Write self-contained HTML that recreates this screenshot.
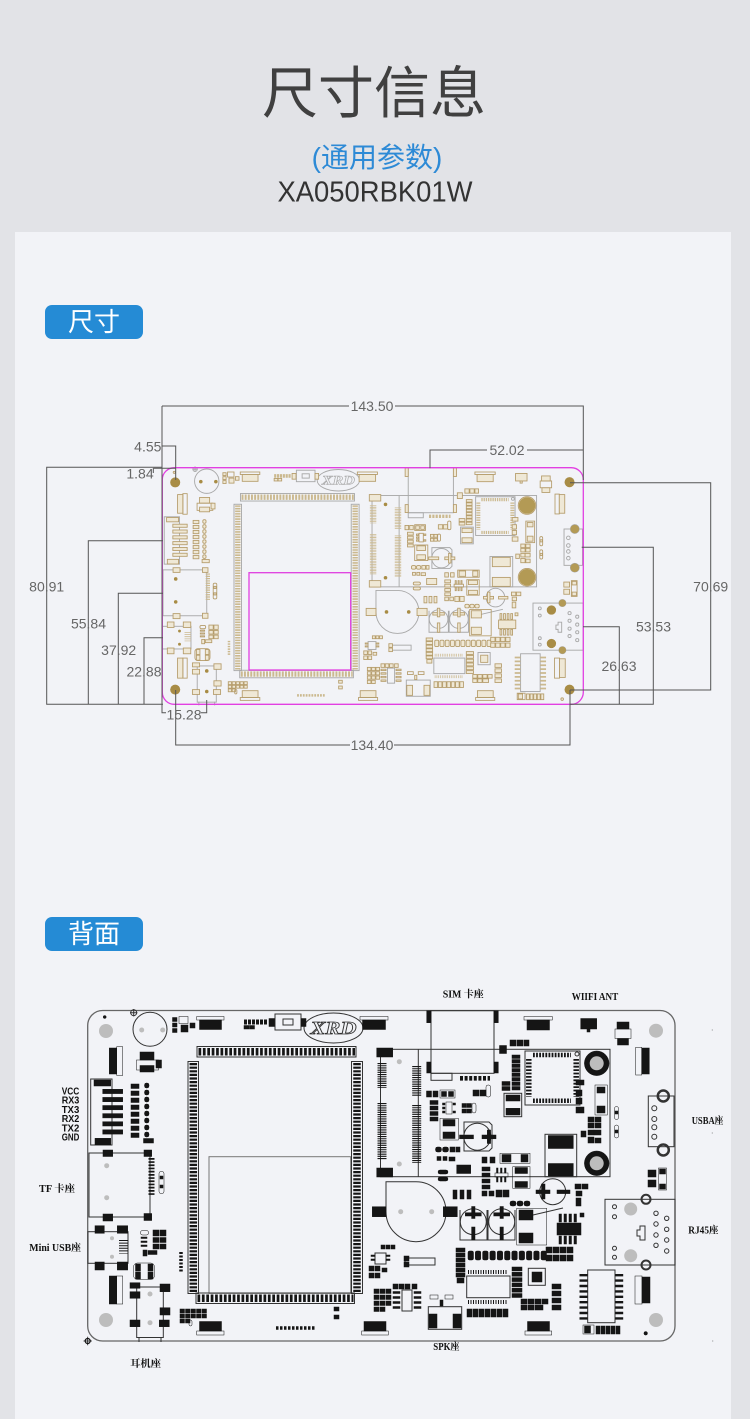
<!DOCTYPE html>
<html><head><meta charset="utf-8"><style>
html,body{margin:0;padding:0;background:#e2e3e7;}
svg{display:block;}
</style></head><body>
<svg width="750" height="1419" viewBox="0 0 750 1419" xmlns="http://www.w3.org/2000/svg" xmlns:xlink="http://www.w3.org/1999/xlink">
<defs>
<!-- outlines -->
<g id="outl" fill="none">
 <rect x="197" y="1046.5" width="159" height="10.5"/>
 <rect x="188" y="1061.5" width="10.5" height="232"/>
 <rect x="351.5" y="1061.5" width="11" height="232"/>
 <rect x="196" y="1293" width="158.5" height="10.5"/>
 <ellipse cx="333.5" cy="1028" rx="29.5" ry="15"/>
 <text x="333.5" y="1034" font-family="Liberation Serif, serif" font-style="italic" font-weight="bold" font-size="18" text-anchor="middle" textLength="46" lengthAdjust="spacingAndGlyphs" stroke-width="0.8">XRD</text>
 <circle cx="150" cy="1029.3" r="17"/>
 <circle cx="133.7" cy="1012.7" r="3"/>
 <path d="M130 1012.7H137.4M133.7 1009V1016.4"/>
 <rect x="275" y="1014" width="26" height="16"/>
 <rect x="283" y="1019" width="10" height="6"/>
 <rect x="90.7" y="1079" width="21.3" height="66"/>
 <rect x="89" y="1153" width="61" height="64"/>
 <rect x="88" y="1231.7" width="40" height="31.6"/>
 <rect x="136.7" y="1287" width="26.6" height="50.5"/>
 <path d="M139 1337V1342M161 1337V1342"/>
 <rect x="380.5" y="1049.3" width="229.5" height="127.4"/>
 <path d="M418.3 1049.3V1176.7"/>
 <rect x="431" y="1010.7" width="63" height="62.6"/>
 <rect x="431" y="1073.3" width="21" height="7"/>
 <rect x="525" y="1051" width="55" height="54"/>
 <circle cx="577" cy="1054" r="2"/>
 <rect x="545" y="1134.3" width="31.7" height="42.4"/>
 <rect x="504" y="1093.3" width="17.7" height="23.4"/>
 <circle cx="477.3" cy="1136.7" r="13.5"/>
 <path d="M464 1122H489L492 1125V1148L489 1151H464Z"/>
 <circle cx="552.7" cy="1191.7" r="13"/>
 <circle cx="473.3" cy="1221.7" r="13"/>
 <circle cx="501.7" cy="1221.7" r="13"/>
 <path d="M460 1210V1240H487V1210M488 1210V1240H515V1210"/>
 <path d="M386 1211.7V1181.7H416A30 30 0 1 1 386 1211.7Z"/>
 <rect x="648.3" y="1096" width="25.7" height="50.7"/>
 <circle cx="654.3" cy="1108.3" r="2.5"/><circle cx="654.3" cy="1119" r="2.5"/><circle cx="654.3" cy="1127.3" r="2.5"/><circle cx="654.3" cy="1136.7" r="2.5"/>
 <circle cx="663.3" cy="1096" r="5.5" stroke-width="2.5"/>
 <circle cx="663.3" cy="1150" r="5.5" stroke-width="2.5"/>
 <rect x="605" y="1199.3" width="70" height="65.7"/>
 <circle cx="646" cy="1199.3" r="4.5" stroke-width="2"/>
 <circle cx="646" cy="1265" r="4.5" stroke-width="2"/>
 <circle cx="614.5" cy="1206.7" r="2"/><circle cx="614.5" cy="1216.7" r="2"/><circle cx="614.5" cy="1248.3" r="2"/><circle cx="614.5" cy="1257.3" r="2"/>
 <circle cx="656" cy="1213.3" r="2.2"/><circle cx="656" cy="1224" r="2.2"/><circle cx="656" cy="1235" r="2.2"/><circle cx="656" cy="1245.3" r="2.2"/>
 <circle cx="666.7" cy="1218.3" r="2.2"/><circle cx="666.7" cy="1229.3" r="2.2"/><circle cx="666.7" cy="1240" r="2.2"/><circle cx="666.7" cy="1251" r="2.2"/>
 <path d="M640 1226H645V1240H640V1236H637V1230H640Z"/>
 <rect x="587.7" y="1270" width="27.3" height="52.7"/>
 <rect x="466.7" y="1276" width="43.3" height="21.7"/>
 <rect x="428.3" y="1306.7" width="33.4" height="22.6"/>
 <rect x="528.3" y="1268.3" width="17" height="17"/>
 <rect x="402" y="1290" width="10" height="21"/>
 <rect x="405" y="1258" width="30" height="7"/>
 <rect x="375" y="1253" width="11" height="11"/>
 <path d="M533 1215L563 1208"/>
</g>
<!-- pin rows -->
<g id="pins" fill="none">
 <line x1="198.5" y1="1051.7" x2="355" y2="1051.7" stroke-width="7.5" stroke-dasharray="2.7 1.7"/>
 <line x1="197.5" y1="1298.3" x2="353.5" y2="1298.3" stroke-width="7.5" stroke-dasharray="2.7 1.7"/>
 <line x1="193.3" y1="1063" x2="193.3" y2="1292" stroke-width="7.5" stroke-dasharray="2.2 1.4"/>
 <line x1="357" y1="1063" x2="357" y2="1292" stroke-width="7.5" stroke-dasharray="2.2 1.4"/>
 <line x1="382" y1="1063" x2="382" y2="1088" stroke-width="9" stroke-dasharray="1.1 1.1"/>
 <line x1="382" y1="1103" x2="382" y2="1160" stroke-width="9" stroke-dasharray="1.1 1.1"/>
 <line x1="416.7" y1="1066" x2="416.7" y2="1096" stroke-width="9" stroke-dasharray="1.1 1.1"/>
 <line x1="416.7" y1="1105" x2="416.7" y2="1163" stroke-width="9" stroke-dasharray="1.1 1.1"/>
 <line x1="533" y1="1055" x2="571" y2="1055" stroke-width="4.5" stroke-dasharray="1.8 1.3"/>
 <line x1="533" y1="1100.8" x2="571" y2="1100.8" stroke-width="4.5" stroke-dasharray="1.8 1.3"/>
 <line x1="528.8" y1="1059" x2="528.8" y2="1097" stroke-width="5.5" stroke-dasharray="1.8 1.6"/>
 <line x1="576.2" y1="1059" x2="576.2" y2="1097" stroke-width="5.5" stroke-dasharray="1.8 1.6"/>
 <line x1="151.5" y1="1158" x2="151.5" y2="1196" stroke-width="6" stroke-dasharray="1.7 1.5"/>
 <line x1="123.5" y1="1240" x2="123.5" y2="1253.5" stroke-width="9" stroke-dasharray="1 1.6"/>
 <line x1="583.5" y1="1274" x2="583.5" y2="1321" stroke-width="8" stroke-dasharray="2.4 3"/>
 <line x1="619.2" y1="1274" x2="619.2" y2="1321" stroke-width="8" stroke-dasharray="2.4 3"/>
 <line x1="468" y1="1272" x2="508" y2="1272" stroke-width="4" stroke-dasharray="1 1.5"/>
 <line x1="468" y1="1302" x2="508" y2="1302" stroke-width="4" stroke-dasharray="1 1.5"/>
 <line x1="460" y1="1078.3" x2="490" y2="1078.3" stroke-width="4.7" stroke-dasharray="3 1.6"/>
 <line x1="276" y1="1328" x2="315" y2="1328" stroke-width="3.5" stroke-dasharray="2.5 1.5"/>
 <line x1="181" y1="1252" x2="181" y2="1272" stroke-width="3.5" stroke-dasharray="2 1.5"/>
 <line x1="244" y1="1022" x2="267" y2="1022" stroke-width="5" stroke-dasharray="3 1"/>
</g>
<!-- pads -->
<g id="pads">
 <rect x="196.7" y="1016.5" width="27.3" height="3.5" fill="none"/><rect x="199.5" y="1020" width="22" height="9.5"/>
 <rect x="360" y="1016.5" width="28" height="3.5" fill="none"/><rect x="362.5" y="1020" width="23" height="9.5"/>
 <rect x="524" y="1016.5" width="28.3" height="3.5" fill="none"/><rect x="527" y="1020" width="22.5" height="10"/>
 <rect x="199.5" y="1321.5" width="22" height="9.5"/><rect x="196.7" y="1331" width="27.3" height="4" fill="none"/>
 <rect x="364" y="1321.5" width="22" height="9.5"/><rect x="361.7" y="1331" width="26.6" height="4" fill="none"/>
 <rect x="527.5" y="1321.5" width="22" height="9.5"/><rect x="525" y="1331" width="26.7" height="4" fill="none"/>
 <rect x="109.3" y="1048" width="7.4" height="26"/><rect x="116.7" y="1046.7" width="6" height="28.7" fill="none"/>
 <rect x="109.3" y="1276" width="7.4" height="28"/><rect x="116.7" y="1276" width="6" height="28" fill="none"/>
 <rect x="635.7" y="1047.3" width="6" height="27.7" fill="none"/><rect x="641.7" y="1048" width="7.6" height="26"/>
 <rect x="635" y="1276" width="7" height="28" fill="none"/><rect x="642" y="1277" width="8" height="26"/>
 <rect x="140" y="1052" width="14" height="8"/><rect x="136.5" y="1060" width="22" height="10" fill="none"/><rect x="140" y="1065.5" width="14" height="6.5"/><rect x="156" y="1060" width="5.5" height="8"/>
 <rect x="172.5" y="1017.5" width="4.5" height="4"/><rect x="172.5" y="1023" width="4.5" height="4"/><rect x="172.5" y="1028.5" width="4.5" height="4"/>
 <rect x="179" y="1016.5" width="9" height="7" fill="none"/><rect x="181" y="1025" width="7" height="7"/><rect x="190" y="1023" width="5" height="5"/>
 <rect x="244" y="1025.5" width="5" height="3.5"/><rect x="249.5" y="1025.5" width="5" height="3.5"/>
 <rect x="269" y="1018.5" width="5.5" height="8"/><rect x="301" y="1018.5" width="5" height="8"/>
 <rect x="94" y="1080" width="16.7" height="6"/><rect x="95" y="1138.3" width="15.7" height="6.5"/>
 <rect x="102.7" y="1089.3" width="20" height="4.3"/><rect x="102.7" y="1097.4" width="20" height="4.3"/><rect x="102.7" y="1105.5" width="20" height="4.3"/><rect x="102.7" y="1113.6" width="20" height="4.3"/><rect x="102.7" y="1121.7" width="20" height="4.3"/><rect x="102.7" y="1129.8" width="20" height="4.3"/>
 <rect x="131" y="1084" width="8" height="4.5"/><rect x="131" y="1091" width="8" height="4.5"/><rect x="131" y="1098" width="8" height="4.5"/><rect x="131" y="1105" width="8" height="4.5"/><rect x="131" y="1112" width="8" height="4.5"/><rect x="131" y="1119" width="8" height="4.5"/><rect x="131" y="1126" width="8" height="4.5"/><rect x="131" y="1133" width="8" height="4.5"/>
 <rect x="144.5" y="1083" width="4.5" height="5" rx="2"/><rect x="144.5" y="1090" width="4.5" height="5" rx="2"/><rect x="144.5" y="1097" width="4.5" height="5" rx="2"/><rect x="144.5" y="1104" width="4.5" height="5" rx="2"/><rect x="144.5" y="1111" width="4.5" height="5" rx="2"/><rect x="144.5" y="1118" width="4.5" height="5" rx="2"/><rect x="144.5" y="1125" width="4.5" height="5" rx="2"/><rect x="144.5" y="1132" width="4.5" height="5" rx="2"/>
 <rect x="143.5" y="1138.5" width="10" height="4.5"/>
 <rect x="103" y="1150" width="9.7" height="6.5"/><rect x="144" y="1150" width="7.7" height="6.5"/><rect x="103" y="1214" width="9.7" height="7"/><rect x="144" y="1213.5" width="7.7" height="7"/>
 <rect x="159" y="1171.5" width="5" height="22" rx="2" fill="none"/><rect x="160" y="1176" width="3" height="3"/><rect x="160" y="1185" width="3" height="3"/>
 <rect x="95" y="1225.7" width="9.3" height="7.6"/><rect x="117.3" y="1225.7" width="10.4" height="7.6"/><rect x="95" y="1262" width="9.3" height="8"/><rect x="117.3" y="1262" width="10.4" height="8"/>
 <rect x="140.5" y="1230.5" width="8" height="4.5" rx="2" fill="none"/><rect x="153" y="1230" width="6" height="6"/><rect x="160" y="1230" width="6" height="6"/><rect x="153" y="1237.5" width="6" height="5"/><rect x="160" y="1237.5" width="6" height="5"/><rect x="153" y="1244" width="6" height="5"/><rect x="160" y="1244" width="6" height="5"/>
 <rect x="141" y="1237" width="6" height="1.5"/><rect x="141" y="1241" width="6" height="1.5"/><rect x="141" y="1245" width="6" height="1.5"/><rect x="143" y="1250" width="4" height="6"/><rect x="148" y="1250.5" width="9" height="4"/>
 <rect x="133.5" y="1263" width="21" height="16.5" rx="4" fill="none"/><rect x="135.5" y="1264" width="5" height="7"/><rect x="148" y="1264" width="5" height="7"/><rect x="135.5" y="1272" width="5" height="7"/><rect x="148" y="1272" width="5" height="7"/>
 <rect x="130" y="1282.7" width="10" height="5.6"/><rect x="130" y="1291.7" width="10" height="6.6"/><rect x="160" y="1284" width="10" height="7.7"/><rect x="160" y="1307.7" width="10" height="7.3"/><rect x="130" y="1320" width="10" height="6.7"/><rect x="159.3" y="1320" width="10" height="6.7"/>
 <rect x="180" y="1309" width="4.5" height="4"/><rect x="185.5" y="1309" width="4.5" height="4"/><rect x="191" y="1309" width="4.5" height="4"/><rect x="196.5" y="1309" width="4.5" height="4"/><rect x="202" y="1309" width="4.5" height="4"/>
 <rect x="180" y="1314" width="4.5" height="4"/><rect x="185.5" y="1314" width="4.5" height="4"/><rect x="191" y="1314" width="4.5" height="4"/><rect x="196.5" y="1314" width="4.5" height="4"/><rect x="202" y="1314" width="4.5" height="4"/>
 <rect x="180" y="1319" width="4.5" height="4"/><rect x="185.5" y="1319" width="4.5" height="4"/><rect x="189" y="1320" width="3" height="6" rx="1.5" fill="none"/>
 <rect x="334" y="1307" width="5" height="4"/><rect x="334" y="1315" width="5" height="4"/>
 <rect x="376.7" y="1048" width="16" height="9"/><rect x="376.7" y="1168" width="16" height="9"/>
 <rect x="426.7" y="1010.7" width="4.3" height="12"/><rect x="494" y="1010.7" width="4.3" height="12"/><rect x="426.7" y="1062" width="4.3" height="11"/><rect x="494" y="1062" width="4.3" height="11"/>
 <rect x="580.7" y="1018.5" width="16" height="10.5"/><rect x="587" y="1029" width="3" height="3"/>
 <rect x="617" y="1022" width="12" height="7"/><rect x="615" y="1029" width="16" height="9.5" fill="none"/><rect x="617.5" y="1038.5" width="11" height="6.5"/>
 <rect x="499.5" y="1045.5" width="7" height="8"/><rect x="510" y="1040" width="6" height="6"/><rect x="517" y="1040" width="6" height="6"/><rect x="524" y="1040" width="5" height="6"/>
 <rect x="512" y="1055" width="8" height="3.5"/><rect x="512" y="1059.5" width="8" height="3.5"/><rect x="512" y="1064" width="8" height="3.5"/><rect x="512" y="1068.5" width="8" height="3.5"/><rect x="512" y="1073" width="8" height="3.5"/><rect x="512" y="1077.5" width="8" height="3.5"/><rect x="512" y="1082" width="8" height="3.5"/><rect x="512" y="1086.5" width="8" height="3.5"/>
 <rect x="502" y="1081.5" width="8" height="4"/><rect x="502" y="1086.5" width="8" height="4"/>
 <rect x="426.5" y="1091" width="5" height="6"/><rect x="433" y="1091" width="5" height="6"/><rect x="440" y="1090" width="15" height="8" fill="none"/><rect x="441.5" y="1091.5" width="5" height="5"/><rect x="448.5" y="1091.5" width="5" height="5"/>
 <rect x="430" y="1100.5" width="8" height="4"/><rect x="430" y="1106" width="8" height="4"/><rect x="430" y="1111.5" width="8" height="4"/><rect x="430" y="1117" width="8" height="4"/>
 <rect x="446" y="1102" width="6" height="12" fill="none"/><rect x="442.5" y="1103" width="2.5" height="2"/><rect x="442.5" y="1107" width="2.5" height="2"/><rect x="442.5" y="1111" width="2.5" height="2"/><rect x="453" y="1103" width="2.5" height="2"/><rect x="453" y="1111" width="2.5" height="2"/>
 <rect x="462" y="1103.5" width="4.5" height="4"/><rect x="467" y="1103.5" width="4.5" height="4"/><rect x="462" y="1109" width="4.5" height="4"/><rect x="467" y="1109" width="4.5" height="4"/><rect x="472" y="1103" width="4" height="10" rx="2" fill="none"/>
 <rect x="473" y="1090" width="6" height="6"/><rect x="480" y="1090" width="6" height="6"/><rect x="486" y="1085" width="4.5" height="12" rx="2" fill="none"/>
 <rect x="506" y="1095" width="14" height="6"/><rect x="506" y="1108.3" width="14" height="6.7"/>
 <rect x="440" y="1118.3" width="18.3" height="21.7" fill="none"/><rect x="443" y="1119.5" width="12" height="6.5"/><rect x="443" y="1132" width="12" height="6.5"/>
 <rect x="459.5" y="1135" width="14" height="3.8"/><rect x="482" y="1135" width="14" height="3.8"/><rect x="487.3" y="1130" width="3.3" height="13.5"/>
 <rect x="435.5" y="1147" width="6" height="5" rx="2"/><rect x="442.5" y="1147" width="6" height="5" rx="2"/><rect x="450" y="1147" width="5" height="5"/><rect x="456" y="1147" width="4" height="5"/>
 <rect x="437" y="1156.5" width="4" height="4"/><rect x="443" y="1156.5" width="4" height="4"/><rect x="449" y="1157" width="6" height="4"/>
 <rect x="456.7" y="1165" width="14" height="8.5"/>
 <rect x="500" y="1153.3" width="30" height="10" fill="none"/><rect x="502" y="1154.5" width="9" height="7.5"/><rect x="521" y="1154.5" width="7" height="7.5"/>
 <rect x="512.7" y="1166.7" width="17.3" height="21.6" fill="none"/><rect x="515" y="1167.5" width="12.5" height="6"/><rect x="515" y="1181.5" width="12.5" height="6"/>
 <rect x="482" y="1157" width="5" height="6"/><rect x="490" y="1157" width="5" height="6"/>
 <rect x="482" y="1167" width="8" height="4"/><rect x="482" y="1173" width="8" height="4"/><rect x="482" y="1179" width="8" height="4"/><rect x="482" y="1185" width="8" height="4"/>
 <rect x="495" y="1173" width="13" height="4" fill="none"/><rect x="496.5" y="1168" width="1.5" height="5"/><rect x="500.5" y="1168" width="1.5" height="5"/><rect x="504.5" y="1168" width="1.5" height="5"/><rect x="496.5" y="1177" width="1.5" height="5"/><rect x="500.5" y="1177" width="1.5" height="5"/><rect x="504.5" y="1177" width="1.5" height="5"/>
 <rect x="482" y="1191" width="5" height="5"/><rect x="489" y="1191" width="5" height="5"/><rect x="496" y="1190" width="6" height="7"/><rect x="503" y="1190" width="6" height="7"/>
 <rect x="453" y="1190" width="4" height="9"/><rect x="460" y="1190" width="4" height="9"/><rect x="467" y="1190" width="4" height="9"/>
 <rect x="438" y="1170" width="10" height="4" rx="2"/><rect x="438" y="1177" width="10" height="4" rx="2"/>
 <rect x="510" y="1201" width="6" height="5" rx="2"/><rect x="517" y="1201" width="6" height="5" rx="2"/><rect x="524" y="1201" width="6" height="5" rx="2"/>
 <rect x="465.3" y="1212.7" width="16" height="3.3"/><rect x="471.6" y="1206.5" width="3.4" height="12"/><rect x="471.6" y="1227" width="3.4" height="13"/>
 <rect x="493.7" y="1212.7" width="16" height="3.3"/><rect x="500" y="1206.5" width="3.4" height="12"/><rect x="500" y="1227" width="3.4" height="13"/>
 <rect x="516.7" y="1208.3" width="30" height="36.7" fill="none"/><rect x="519" y="1210" width="14" height="10"/><rect x="519" y="1233" width="14" height="10"/>
 <rect x="557" y="1223" width="24" height="12"/>
 <rect x="559" y="1214" width="2.5" height="8"/><rect x="564" y="1214" width="2.5" height="8"/><rect x="569" y="1214" width="2.5" height="8"/><rect x="574" y="1214" width="2.5" height="8"/>
 <rect x="559" y="1236" width="2.5" height="8"/><rect x="564" y="1236" width="2.5" height="8"/><rect x="569" y="1236" width="2.5" height="8"/><rect x="574" y="1236" width="2.5" height="8"/><rect x="580" y="1213" width="4" height="4"/>
 <rect x="575" y="1184" width="6" height="5"/><rect x="582" y="1184" width="6" height="5"/><rect x="576" y="1191" width="6" height="5"/><rect x="576" y="1198" width="5" height="8"/>
 <rect x="536" y="1190" width="14" height="3.6"/><rect x="541.5" y="1184" width="3.5" height="15"/><rect x="557" y="1190" width="13" height="3.6"/>
 <rect x="548.3" y="1135.5" width="25" height="13"/><rect x="548.3" y="1163.5" width="25" height="12.5"/>
 <circle cx="596.7" cy="1063.3" r="12.3"/><circle cx="596.7" cy="1163.3" r="12.3"/>
 <rect x="576" y="1080" width="8" height="5"/><rect x="576" y="1090" width="6" height="6"/><rect x="576" y="1098" width="6" height="6"/><rect x="576" y="1107" width="8" height="6"/>
 <rect x="595" y="1085" width="12.3" height="30" fill="none"/><rect x="597" y="1087" width="8" height="6"/><rect x="597" y="1106" width="8" height="7"/>
 <rect x="588" y="1117" width="6" height="5"/><rect x="595" y="1117" width="6" height="5"/><rect x="588" y="1123" width="6" height="5"/><rect x="595" y="1123" width="6" height="5"/>
 <rect x="581" y="1131" width="5" height="6"/><rect x="588" y="1130" width="6" height="5"/><rect x="594" y="1130" width="7" height="5"/><rect x="588" y="1137" width="6" height="6"/><rect x="595" y="1138" width="6" height="5"/>
 <rect x="614.5" y="1106.5" width="4" height="13" rx="2" fill="none"/><rect x="614.5" y="1125" width="4" height="13" rx="2" fill="none"/><rect x="615" y="1111" width="3" height="3"/><rect x="615" y="1130" width="3" height="3"/>
 <rect x="648" y="1170" width="8" height="7"/><rect x="648" y="1180" width="8" height="7"/><rect x="658.5" y="1168" width="8" height="22" fill="none"/><rect x="659.5" y="1169" width="6" height="5"/><rect x="659.5" y="1184" width="6" height="5"/>
 <rect x="372.3" y="1206.7" width="13.7" height="10"/><rect x="443.3" y="1206.7" width="14" height="10"/>
 <rect x="381" y="1245" width="4" height="4"/><rect x="386" y="1245" width="4" height="4"/><rect x="391" y="1245" width="4" height="4"/>
 <rect x="371" y="1255" width="4" height="1.5"/><rect x="371" y="1259" width="4" height="1.5"/><rect x="386" y="1255" width="4" height="1.5"/><rect x="386" y="1259" width="4" height="1.5"/>
 <rect x="369" y="1266" width="5" height="5"/><rect x="375" y="1266" width="5" height="5"/><rect x="369" y="1273" width="5" height="5"/><rect x="375" y="1273" width="5" height="5"/><rect x="382" y="1268" width="5" height="4"/>
 <rect x="404" y="1256" width="5" height="5"/><rect x="404" y="1262" width="5" height="5"/>
 <rect x="393" y="1291.5" width="7" height="2"/><rect x="393" y="1296.5" width="7" height="2"/><rect x="393" y="1301.5" width="7" height="2"/><rect x="393" y="1306.5" width="7" height="2"/>
 <rect x="414" y="1291.5" width="7" height="2"/><rect x="414" y="1296.5" width="7" height="2"/><rect x="414" y="1301.5" width="7" height="2"/><rect x="414" y="1306.5" width="7" height="2"/>
 <rect x="374" y="1289" width="5" height="4.5"/><rect x="380" y="1289" width="5" height="4.5"/><rect x="386" y="1289" width="5" height="4.5"/>
 <rect x="374" y="1295" width="5" height="4.5"/><rect x="380" y="1295" width="5" height="4.5"/><rect x="386" y="1295" width="5" height="4.5"/>
 <rect x="374" y="1301" width="5" height="4.5"/><rect x="380" y="1301" width="5" height="4.5"/><rect x="386" y="1301" width="5" height="4.5"/>
 <rect x="374" y="1307" width="5" height="4.5"/><rect x="380" y="1307" width="5" height="4.5"/>
 <rect x="393" y="1284" width="5" height="5"/><rect x="399" y="1284" width="5" height="5"/><rect x="405" y="1284" width="5" height="5"/><rect x="412" y="1284" width="5" height="5"/>
 <rect x="430" y="1295" width="8" height="4" fill="none"/><rect x="445" y="1295" width="8" height="4" fill="none"/><rect x="440" y="1300" width="3" height="6"/>
 <rect x="429" y="1314" width="8" height="14"/><rect x="453" y="1314" width="8" height="14"/>
 <rect x="456" y="1248" width="9" height="4"/><rect x="456" y="1253" width="9" height="4"/><rect x="456" y="1258" width="9" height="4"/><rect x="456" y="1263" width="9" height="4"/><rect x="456" y="1268" width="9" height="4"/><rect x="456" y="1273" width="9" height="4"/><rect x="457" y="1278" width="7" height="5"/>
 <rect x="468" y="1251" width="5.5" height="9" rx="1.5"/><rect x="475.3" y="1251" width="5.5" height="9" rx="1.5"/><rect x="482.6" y="1251" width="5.5" height="9" rx="1.5"/><rect x="489.9" y="1251" width="5.5" height="9" rx="1.5"/><rect x="497.2" y="1251" width="5.5" height="9" rx="1.5"/><rect x="504.5" y="1251" width="5.5" height="9" rx="1.5"/><rect x="511.8" y="1251" width="5.5" height="9" rx="1.5"/><rect x="519.1" y="1251" width="5.5" height="9" rx="1.5"/><rect x="526.4" y="1251" width="5.5" height="9" rx="1.5"/><rect x="533.7" y="1251" width="5.5" height="9" rx="1.5"/><rect x="541" y="1251" width="5.5" height="9" rx="1.5"/>
 <rect x="512" y="1267" width="10" height="4"/><rect x="512" y="1272.3" width="10" height="4"/><rect x="512" y="1277.6" width="10" height="4"/><rect x="512" y="1282.9" width="10" height="4"/><rect x="512" y="1288.2" width="10" height="4"/><rect x="512" y="1293.5" width="10" height="4"/>
 <rect x="521" y="1299" width="6" height="5"/><rect x="528" y="1299" width="6" height="5"/><rect x="535" y="1299" width="6" height="5"/><rect x="542" y="1299" width="6" height="5"/><rect x="521" y="1305" width="6" height="5"/><rect x="528" y="1305" width="6" height="5"/><rect x="535" y="1305" width="8" height="5"/>
 <rect x="467" y="1309" width="5" height="8"/><rect x="473" y="1309" width="5" height="8"/><rect x="479" y="1309" width="5" height="8"/><rect x="485" y="1309" width="5" height="8"/><rect x="491" y="1309" width="5" height="8"/><rect x="497" y="1309" width="5" height="8"/><rect x="503" y="1309" width="5" height="8"/>
 <rect x="546" y="1247" width="6" height="6"/><rect x="553" y="1247" width="6" height="6"/><rect x="560" y="1247" width="6" height="6"/><rect x="567" y="1247" width="6" height="6"/><rect x="546" y="1255" width="6" height="6"/><rect x="553" y="1255" width="6" height="6"/><rect x="560" y="1255" width="6" height="6"/><rect x="567" y="1255" width="6" height="6"/>
 <rect x="552" y="1284" width="9" height="5"/><rect x="552" y="1291" width="9" height="5"/><rect x="552" y="1298" width="9" height="5"/><rect x="552" y="1305" width="9" height="5"/>
 <rect x="532" y="1272" width="10" height="10"/>
 <rect x="583" y="1325" width="11" height="9" fill="none"/><rect x="584.5" y="1326" width="6" height="7"/><rect x="596" y="1326" width="4" height="8"/><rect x="601" y="1326" width="4" height="8"/><rect x="606" y="1326" width="4" height="8"/><rect x="611" y="1326" width="4" height="8"/><rect x="616" y="1326" width="4" height="8"/>
 <circle cx="645.7" cy="1333.3" r="1.8"/>
 <circle cx="104.7" cy="1017" r="1.5"/>
</g>
<!-- gray dots / holes -->
<g id="dots">
 <circle cx="106" cy="1031" r="7"/><circle cx="106" cy="1320" r="7"/><circle cx="656" cy="1030.7" r="7"/><circle cx="656" cy="1320" r="7"/>
 <circle cx="141.7" cy="1030" r="2.5"/><circle cx="162.7" cy="1030" r="2.5"/>
 <circle cx="106.7" cy="1165.7" r="2.5"/><circle cx="106.7" cy="1197.7" r="2.5"/>
 <circle cx="112" cy="1238.3" r="2"/><circle cx="112" cy="1256.7" r="2"/>
 <circle cx="150" cy="1294" r="2.5"/><circle cx="150" cy="1322.7" r="2.5"/>
 <circle cx="399.3" cy="1061.7" r="2.5"/><circle cx="399.3" cy="1164" r="2.5"/>
 <circle cx="400.7" cy="1211.7" r="2.5"/><circle cx="431.7" cy="1211.7" r="2.5"/>
 <circle cx="596.7" cy="1063.3" r="7"/><circle cx="596.7" cy="1163.3" r="7"/>
 <circle cx="630.7" cy="1209" r="6.5"/><circle cx="630.7" cy="1255.7" r="6.5"/>
</g>
</defs>

<!-- backgrounds -->
<rect x="0" y="0" width="750" height="1419" fill="#e2e3e7"/>
<rect x="15" y="232" width="716" height="1187" fill="#f2f3f7"/>

<!-- header -->
<text x="374" y="113" font-family="Liberation Sans, Noto Sans CJK SC, sans-serif" font-size="56" fill="#404040" text-anchor="middle">尺寸信息</text>
<text x="377" y="167" font-family="Liberation Sans, Noto Sans CJK SC, sans-serif" font-size="28" fill="#2d8ad6" text-anchor="middle">(通用参数)</text>
<text x="277.5" y="201.5" font-family="Liberation Sans, sans-serif" font-size="29" fill="#333" textLength="195" lengthAdjust="spacingAndGlyphs">XA050RBK01W</text>

<!-- badges -->
<rect x="45" y="305" width="98" height="34" rx="7" fill="#258bd5"/>
<text x="94" y="331" font-family="Liberation Sans, Noto Sans CJK SC, sans-serif" font-size="26" fill="#fff" text-anchor="middle">尺寸</text>
<rect x="45" y="917" width="98" height="34" rx="7" fill="#258bd5"/>
<text x="94" y="943" font-family="Liberation Sans, Noto Sans CJK SC, sans-serif" font-size="26" fill="#fff" text-anchor="middle">背面</text>

<!-- ===== TOP BOARD ===== -->
<g transform="translate(162.3 467.7) scale(0.717) translate(-88 -1010.5)">
 <rect x="209" y="1156.7" width="141.7" height="136.6" fill="none" stroke="#b0b0b0" stroke-width="1"/>
 <use xlink:href="#outl" href="#outl" stroke="#a9a9a9" stroke-width="1.3"/>
 <use xlink:href="#pins" href="#pins" stroke="#cbb98f"/>
 <use xlink:href="#pads" href="#pads" fill="#efe8d6" stroke="#b59c6a" stroke-width="1.2"/>
 <use xlink:href="#dots" href="#dots" fill="#a88c45"/>
 <circle cx="596.7" cy="1063.3" r="11.5" fill="#b39a55"/>
 <circle cx="596.7" cy="1163.3" r="11.5" fill="#b39a55"/>
 <circle cx="663.3" cy="1096" r="6" fill="#b39a55"/><circle cx="663.3" cy="1150" r="6" fill="#b39a55"/>
 <circle cx="646" cy="1199.3" r="5" fill="#b39a55"/><circle cx="646" cy="1265" r="5" fill="#b39a55"/>
</g>
<!-- magenta outlines -->
<path d="M174.3 467.7H571.3A12 12 0 0 1 583.3 479.7V692.3A12 12 0 0 1 571.3 704.3H174.3A12 12 0 0 1 162.3 692.3V479.7A12 12 0 0 1 174.3 467.7Z" fill="none" stroke="#e23fe2" stroke-width="1.3"/>
<rect x="249" y="572.7" width="101.7" height="97.3" fill="none" stroke="#e23fe2" stroke-width="1.3"/>

<!-- dimension lines -->
<g stroke="#555" stroke-width="1" fill="none">
 <path d="M162 406H349M395 406H583.3V480"/>
 <path d="M162 406V712.7H166M201 712.7H206.7V700"/>
 <path d="M162 446H175.7V480"/>
 <path d="M153.3 468.3H175.7M153.3 468.3V473"/>
 <path d="M162 467.3H46.7V704.3H163"/>
 <path d="M163 540.7H88.3V704.3"/>
 <path d="M163 593.3H118.3V704.3"/>
 <path d="M163 637.7H144V704.3"/>
 <path d="M175.7 690V745H350M394 745H570V690"/>
 <path d="M430 468.3V450H487M527 450H583.3"/>
 <path d="M570 482.7H710.7V690H570"/>
 <path d="M581.7 547.3H653.3V704.3H570"/>
 <path d="M583 626.7H619.3V704.3"/>
</g>
<g font-family="Liberation Sans, sans-serif" font-size="14" fill="#666" text-anchor="middle">
 <text x="372" y="411">143.50</text>
 <text x="372" y="750">134.40</text>
 <text x="507" y="455">52.02</text>
 <text x="147.8" y="451.7">4.55</text>
 <text x="140" y="478.3">1.84</text>
 <text x="46.7" y="591.7">80.91</text>
 <text x="88.5" y="628.3">55.84</text>
 <text x="118.7" y="655">37.92</text>
 <text x="144" y="676.7">22.88</text>
 <text x="184" y="719.7">15.28</text>
 <text x="710.7" y="591.7">70.69</text>
 <text x="653.5" y="631.7">53.53</text>
 <text x="619" y="671">26.63</text>
</g>

<!-- ===== BACK BOARD ===== -->
<path d="M102.7 1010.5H660A15 15 0 0 1 675 1025.5V1326A15 15 0 0 1 660 1341H102.7A15 15 0 0 1 87.7 1326V1025.5A15 15 0 0 1 102.7 1010.5Z" fill="none" stroke="#666" stroke-width="1.3"/>
<rect x="209" y="1156.7" width="141.7" height="136.6" fill="none" stroke="#777" stroke-width="1"/>
<use xlink:href="#outl" href="#outl" stroke="#333" stroke-width="1"/>
<use xlink:href="#pins" href="#pins" stroke="#151515"/>
<use xlink:href="#pads" href="#pads" fill="#151515" stroke="#151515" stroke-width="0.5"/>
<use xlink:href="#dots" href="#dots" fill="#bdbdbd"/>
<!-- fiducial -->
<circle cx="87.7" cy="1341" r="2.5" fill="none" stroke="#111" stroke-width="1.2"/>
<path d="M83.5 1341H91.9M87.7 1336.8V1345.2" stroke="#111" stroke-width="0.8"/>
<circle cx="712.3" cy="1030" r="0.6" fill="#999"/><circle cx="712.3" cy="1133" r="0.6" fill="#999"/><circle cx="712.7" cy="1341" r="0.6" fill="#999"/>

<!-- back labels -->
<g font-family="Liberation Serif, Noto Serif CJK SC, serif" font-weight="bold" font-size="10" fill="#111">
 <text x="442.7" y="997.5" textLength="41" lengthAdjust="spacingAndGlyphs">SIM 卡座</text>
 <text x="571.7" y="1000" textLength="46.6" lengthAdjust="spacingAndGlyphs">WIIFI ANT</text>
 <text x="691.7" y="1124" textLength="31.6" lengthAdjust="spacingAndGlyphs">USBA座</text>
 <text x="688.3" y="1233.5" textLength="30" lengthAdjust="spacingAndGlyphs">RJ45座</text>
 <text x="433.3" y="1350" textLength="26" lengthAdjust="spacingAndGlyphs">SPK座</text>
 <text x="130" y="1367" textLength="31" lengthAdjust="spacingAndGlyphs">耳机座</text>
 <text x="29.3" y="1251" textLength="51.7" lengthAdjust="spacingAndGlyphs">Mini USB座</text>
 <text x="39" y="1192" textLength="36" lengthAdjust="spacingAndGlyphs">TF 卡座</text>
</g>
<g font-family="Liberation Sans, sans-serif" font-weight="bold" font-size="10.5" fill="#111">
 <text x="61.7" y="1094.5" textLength="17.6" lengthAdjust="spacingAndGlyphs">VCC</text>
 <text x="61.7" y="1103.7" textLength="17.6" lengthAdjust="spacingAndGlyphs">RX3</text>
 <text x="61.7" y="1112.9" textLength="17.6" lengthAdjust="spacingAndGlyphs">TX3</text>
 <text x="61.7" y="1122.1" textLength="17.6" lengthAdjust="spacingAndGlyphs">RX2</text>
 <text x="61.7" y="1131.3" textLength="17.6" lengthAdjust="spacingAndGlyphs">TX2</text>
 <text x="61.7" y="1140.5" textLength="17.6" lengthAdjust="spacingAndGlyphs">GND</text>
</g>
</svg>
</body></html>
